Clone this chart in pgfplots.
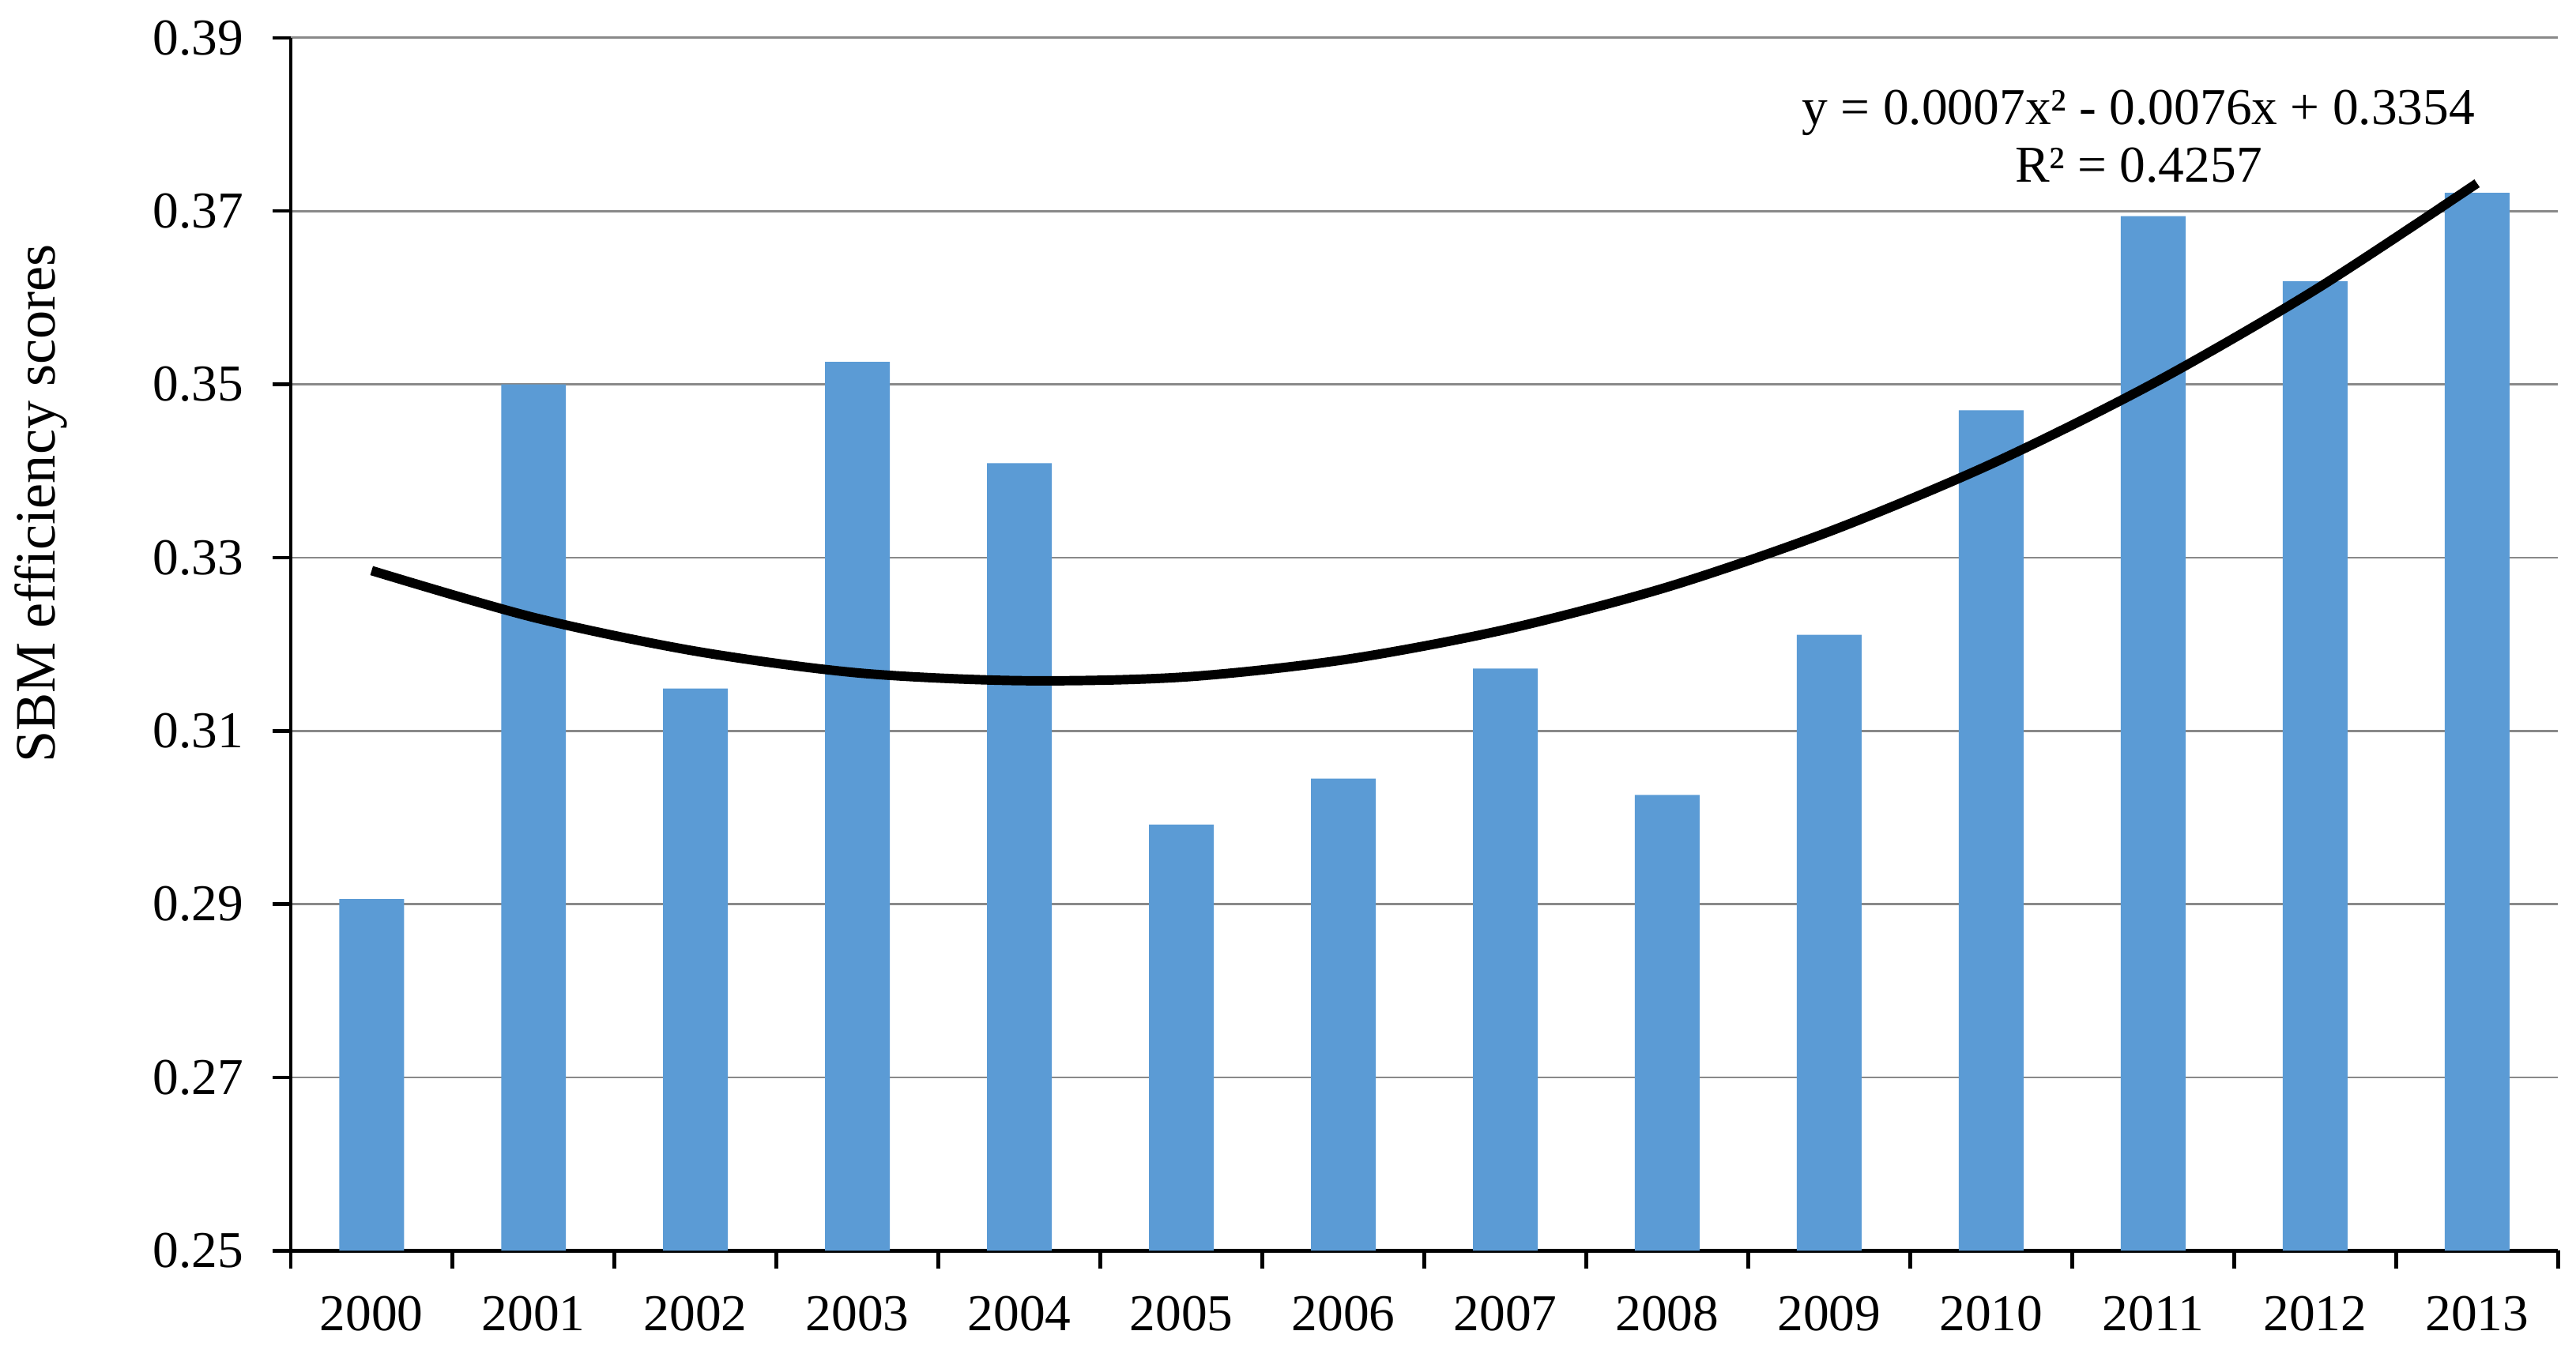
\documentclass[border=0pt]{standalone}
\usepackage{pgfplots}
\pgfplotsset{compat=1.18}
\usepackage{fontspec}
\setmainfont{Liberation Serif}

\definecolor{barblue}{HTML}{5B9BD5}
\definecolor{gridgray}{HTML}{898989}

\begin{document}
\begin{tikzpicture}
\begin{axis}[
    scale only axis,
    width=504.5pt,
    height=270pt,
    axis lines*=left,
    axis line style={line width=0.8pt, black},
    xmin=-0.5, xmax=13.5,
    ymin=0.25, ymax=0.39,
    xtick={0,...,13},
    xticklabels={2000,2001,2002,2003,2004,2005,2006,2007,2008,2009,2010,2011,2012,2013},
    minor xtick={-0.5,0.5,...,13.5},
    major x tick style={draw=none},
    minor x tick style={draw=black, line width=0.8pt},
    minor tick length=4pt,
    major tick length=4pt,
    tick align=outside,
    ytick={0.25,0.27,0.29,0.31,0.33,0.35,0.37,0.39},
    y tick style={line width=0.8pt, black},
    ymajorgrids,
    grid style={line width=0.5pt, gridgray},
    /pgf/number format/assume math mode=true,
    yticklabel style={/pgf/number format/fixed, /pgf/number format/precision=2,
        /pgf/number format/fixed zerofill, xshift=-3pt},
    xticklabel style={yshift=-2.5pt},
    every tick label/.append style={font=\fontsize{11.5}{13}\selectfont},
    ylabel={SBM efficiency scores},
    ylabel style={at={(axis description cs:-0.110,0.616)}, anchor=center,
        font=\fontsize{12.7}{14}\selectfont},
    clip=false,
]
\addplot[ybar, bar width=0.4, fill=barblue, draw=none] coordinates {
    (0,0.2906) (1,0.3500) (2,0.3149) (3,0.3526) (4,0.3409)
    (5,0.2992) (6,0.3045) (7,0.3172) (8,0.3026) (9,0.3211)
    (10,0.3470) (11,0.3694) (12,0.3619) (13,0.3721)
};
\addplot[smooth, black, line width=2.1pt, no markers] coordinates {
    (0,0.3285) (1,0.3231) (2,0.3192) (3,0.3167) (4,0.3158)
    (5,0.3162) (6,0.3182) (7,0.3217) (8,0.3266) (9,0.3330)
    (10,0.3408) (11,0.3501) (12,0.3609) (13,0.3732)
};
\node[align=center, font=\fontsize{11.5}{12.8}\selectfont] at (axis cs:10.91,0.3786)
    {y = 0.0007x² - 0.0076x + 0.3354\\R² = 0.4257};
\path (rel axis cs:0,0) ++(-62pt,-20.6pt) rectangle ++(570.5pt,299pt);
\end{axis}
\end{tikzpicture}
\end{document}
